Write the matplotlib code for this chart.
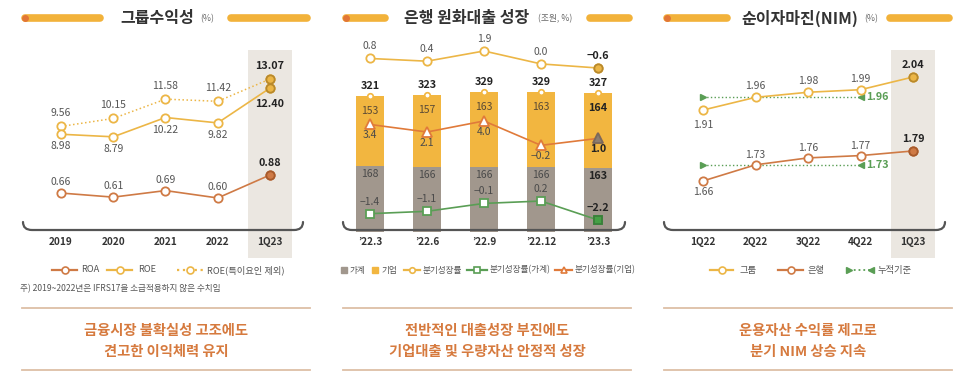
import numpy as np
import matplotlib.pyplot as plt
import matplotlib.transforms as mtransforms
from matplotlib.patches import Rectangle, PathPatch
from matplotlib.path import Path

plt.rcParams['font.family'] = ['Noto Sans CJK KR', 'DejaVu Sans']

# ---- data ----
years = ['2019', '2020', '2021', '2022', '1Q23']
roa = [0.66, 0.61, 0.69, 0.60, 0.88]
roe = [8.98, 8.79, 10.22, 9.82, 12.40]
roe_adj = [9.56, 10.15, 11.58, 11.42, 13.07]

loan_quarters = ['\u201922.3', '\u201922.6', '\u201922.9', '\u201922.12', '\u201923.3']
household = [168, 166, 166, 166, 163]
corporate = [153, 157, 163, 163, 164]
growth_total = [0.8, 0.4, 1.9, 0.0, -0.6]
growth_household = [-1.4, -1.1, -0.1, 0.2, -2.2]
growth_corporate = [3.4, 2.1, 4.0, -0.2, 1.0]

nim_quarters = ['1Q22', '2Q22', '3Q22', '4Q22', '1Q23']
nim_group = [1.91, 1.96, 1.98, 1.99, 2.04]
nim_bank = [1.66, 1.73, 1.76, 1.77, 1.79]
nim_group_cum = 1.96
nim_bank_cum = 1.73

# ---- colours ----
GOLD = '#ECB646'
GOLD_DARK = '#B8892C'
ORANGE = '#CF7A45'
ORANGE_DARK = '#A65A2C'
CORP_ORANGE = '#E07A3A'
GREEN = '#5A9E55'
GREEN_FILL = '#45A045'
BAR_GRAY = '#A1978D'
BAR_YELLOW = '#F2B640'
SHADE = '#EBE7E1'
TXT = '#555555'
DARK = '#222222'

W, H = 960, 377
fig = plt.figure(figsize=(9.6, 3.77), dpi=100)

under = fig.add_axes([0, 0, 1, 1])
over = fig.add_axes([0, 0, 1, 1])
for a, z in ((under, -1), (over, 5)):
    a.set_xlim(0, W)
    a.set_ylim(H, 0)
    a.axis('off')
    a.set_zorder(z)


def fmt(v, d):
    return f'{v:.{d}f}'.replace('-', '\u2212')


def panel_axes(x0, x1, first, last):
    ax = fig.add_axes([x0 / W, 1 - 232 / H, (x1 - x0) / W, (232 - 45) / H])
    step = (last - first) / 4
    ax.set_xlim(-(first - x0) / step, 4 + (x1 - last) / step)
    ax.axis('off')
    ax.set_zorder(1)
    return ax


def twin(ax, ylim):
    t = ax.twinx()
    t.axis('off')
    t.set_ylim(*ylim)
    return t


def series(t, vals, color, marker='o', ls='-', lw=1.2, ms=6, face=None, edge=None):
    x = np.arange(len(vals))
    t.plot(x, vals, color=color, ls=ls, lw=lw, marker=marker, ms=ms,
           mfc='white', mec=color, mew=1.3, zorder=3)
    t.plot(x[-1:], vals[-1:], ls='none', marker=marker, ms=ms,
           mfc=face, mec=edge, mew=1.3, zorder=4)


def labels(t, vals, offsets, d=2, color=TXT, size=7.5):
    for i, (v, dy) in enumerate(zip(vals, offsets)):
        last = i == len(vals) - 1
        t.annotate(fmt(v, d), (i, v), xytext=(0, dy), textcoords='offset pixels',
                   ha='center', va='center', fontsize=7.8 if last else size,
                   color=DARK if last else color,
                   fontweight='bold' if last else 'normal', zorder=6)


def xlabels(ax, cats):
    tr = mtransforms.blended_transform_factory(ax.transData, over.transData)
    for i, c in enumerate(cats):
        over.text(i, 242, c, transform=tr, ha='center', va='center',
                  fontsize=7.2, fontweight='bold', color='#333333')


def shade_last(ax):
    tr = mtransforms.blended_transform_factory(ax.transData, under.transData)
    under.add_patch(Rectangle((4 - 0.42, 50), 0.84, 208, transform=tr,
                              facecolor=SHADE, edgecolor='none'))


def bracket(x0, x1, ytop=222, ybot=230, r=9):
    verts = [(x0, ytop), (x0, ybot), (x0 + r, ybot), (x1 - r, ybot),
             (x1, ybot), (x1, ytop)]
    codes = [Path.MOVETO, Path.CURVE3, Path.CURVE3, Path.LINETO,
             Path.CURVE3, Path.CURVE3]
    over.add_patch(PathPatch(Path(verts, codes), facecolor='none',
                             edgecolor='#555555', lw=1.6, capstyle='round'))


def title(left_bar, right_bar, text, cx, unit, ux):
    for xa, xb in (left_bar, right_bar):
        over.plot([xa + 3, xb - 3], [18, 18], color='#F2B23A', lw=5.5,
                  solid_capstyle='round')
    over.plot([left_bar[0] + 3], [18], 'o', ms=5, color='#E27636', mec='none')
    over.text(cx, 18, text, ha='center', va='center', fontsize=11.5,
              fontweight='bold', color='#333333')
    over.text(ux, 19, unit, ha='left', va='center', fontsize=6.3, color='#666666')


def legend_line(x0, x1, y, color, marker, ls='-', mfc='white', ms=5):
    over.plot([x0, x1], [y, y], color=color, ls=ls, lw=1.6)
    over.plot([(x0 + x1) / 2], [y], marker=marker, ms=ms, mfc=mfc, mec=color, mew=1.2)


def legend_text(x, y, s, size=6.7):
    over.text(x, y, s, ha='left', va='center', fontsize=size, color=TXT)


def summary(x0, x1, line1, line2):
    for y in (308, 370):
        over.plot([x0, x1], [y, y], color='#DDBFA6', lw=1.3)
    cx = (x0 + x1) / 2
    for y, s in ((331, line1), (352, line2)):
        over.text(cx, y, s, ha='center', va='center', fontsize=10.3,
                  fontweight='bold', color='#D67A3E')


# ---- panel 1 : group profitability ----
ax1 = panel_axes(22, 305, 61, 270)
shade_last(ax1)
t_roe = twin(ax1, (1.74, 15.59))
series(t_roe, roe_adj, GOLD, ls=':', lw=1.1, face=GOLD, edge=GOLD_DARK)
series(t_roe, roe, GOLD, face=GOLD, edge=GOLD_DARK)
labels(t_roe, roe_adj, [13, 13, 13, 13, 13])
labels(t_roe, roe, [-12, -12, -12, -12, -16])
t_roa = twin(ax1, (0.185, 2.465))
series(t_roa, roa, ORANGE, face=ORANGE, edge=ORANGE_DARK)
labels(t_roa, roa, [11, 11, 11, 11, 12])
xlabels(ax1, years)
bracket(23, 303)
title((22, 103), (228, 310), '그룹수익성', 157, '(%)', 200)
legend_line(52, 77, 270, ORANGE, 'o')
legend_text(81, 270, 'ROA')
legend_line(107, 132, 270, GOLD, 'o')
legend_text(138, 270, 'ROE')
legend_line(177, 203, 270, GOLD, 'o', ls=':')
legend_text(207, 270, 'ROE(특이요인 제외)')
over.text(20, 289, '주) 2019~2022년은 IFRS17을 소급적용하지 않은 수치임',
          ha='left', va='center', fontsize=6.2, color=TXT)
summary(22, 310, '금융시장 불확실성 고조에도', '견고한 이익체력 유지')

# ---- panel 2 : bank KRW loans ----
ax2 = panel_axes(340, 632, 370, 598)
ax2.set_ylim(24, 432)
x2 = np.arange(len(household))
total = np.add(household, corporate)
ax2.bar(x2, household, width=0.49, color=BAR_GRAY, zorder=1)
ax2.bar(x2, corporate, bottom=household, width=0.49, color=BAR_YELLOW, zorder=1)
ax2.plot(x2, total, ls='none', marker='o', ms=4, mfc='white', mec=BAR_YELLOW,
         mew=1.2, zorder=2)
for i in x2:
    last = i == len(x2) - 1
    ax2.annotate(str(total[i]), (i, total[i]), xytext=(0, 10),
                 textcoords='offset pixels', ha='center', va='center',
                 fontsize=7.8, fontweight='bold', color=DARK)
    ax2.annotate(str(corporate[i]), (i, total[i]), xytext=(0, -15),
                 textcoords='offset pixels', ha='center', va='center',
                 fontsize=7.8 if last else 7.5, color=DARK if last else '#5A4A35',
                 fontweight='bold' if last else 'normal')
    ax2.annotate(str(household[i]), (i, household[i]), xytext=(0, -8),
                 textcoords='offset pixels', ha='center', va='center',
                 fontsize=7.8 if last else 7.5, color=DARK if last else '#4A4A4A',
                 fontweight='bold' if last else 'normal')
t_gt = twin(ax2, (-24.7, 2.78))
series(t_gt, growth_total, GOLD, face=GOLD, edge=GOLD_DARK)
labels(t_gt, growth_total, [12] * 5, d=1)
t_gc = twin(ax2, (-15.14, 17.1))
series(t_gc, growth_corporate, CORP_ORANGE, marker='^', ms=6.5,
       face='#8E7E70', edge='#7A6A5C')
labels(t_gc, growth_corporate, [-11] * 5, d=1, color='#4A4A4A')
t_gh = twin(ax2, (-3.72, 19.95))
series(t_gh, growth_household, GREEN, marker='s', ms=6,
       face=GREEN_FILL, edge='#3A7F3A')
labels(t_gh, growth_household, [12] * 5, d=1, color='#4A4A4A')
xlabels(ax2, loan_quarters)
bracket(343, 625)
title((343, 388), (587, 632), '은행 원화대출 성장', 467, '(조원, %)', 538)
over.plot([344], [270], 's', ms=5, color=BAR_GRAY)
legend_text(350, 270, '가계', 6.2)
over.plot([375], [270], 's', ms=5, color=BAR_YELLOW)
legend_text(381, 270, '기업', 6.2)
legend_line(404, 420, 270, GOLD, 'o', ms=4)
legend_text(423, 270, '분기성장률', 6.2)
legend_line(467, 487, 270, GREEN, 's', ms=4.5)
legend_text(490, 270, '분기성장률(가계)', 6.2)
legend_line(555, 572, 270, CORP_ORANGE, '^', ms=5)
legend_text(575, 270, '분기성장률(기업)', 6.2)
summary(343, 631, '전반적인 대출성장 부진에도', '기업대출 및 우량자산 안정적 성장')

# ---- panel 3 : NIM ----
ax3 = panel_axes(663, 945, 703, 913)
shade_last(ax3)
t_ng = twin(ax3, (1.43, 2.166))
t_nb = twin(ax3, (1.439, 2.249))
for t, v in ((t_ng, nim_group_cum), (t_nb, nim_bank_cum)):
    t.plot([0, 3], [v, v], color=GREEN, ls=':', lw=1.0, zorder=2)
    t.plot([0], [v], '>', ms=4.5, color=GREEN, zorder=2)
    t.plot([3], [v], '<', ms=4.5, color=GREEN, zorder=2)
    t.annotate(fmt(v, 2), (3, v), xytext=(6, 0), textcoords='offset pixels',
               ha='left', va='center', fontsize=7.8, fontweight='bold', color=GREEN)
series(t_ng, nim_group, GOLD, face=GOLD, edge=GOLD_DARK)
labels(t_ng, nim_group, [-15, 11, 11, 11, 12])
series(t_nb, nim_bank, ORANGE, face=ORANGE, edge=ORANGE_DARK)
labels(t_nb, nim_bank, [-11, 10, 10, 10, 12])
xlabels(ax3, nim_quarters)
bracket(664, 945)
title((664, 730), (887, 952), '순이자마진(NIM)', 800, '(%)', 864)
legend_line(710, 733, 270, GOLD, 'o')
legend_text(739, 270, '그룹')
legend_line(778, 803, 270, ORANGE, 'o')
legend_text(808, 270, '은행')
over.plot([849, 871], [270, 270], color=GREEN, ls=':', lw=1.3)
over.plot([849], [270], '>', ms=4, color=GREEN)
over.plot([871], [270], '<', ms=4, color=GREEN)
legend_text(877, 270, '누적기준')
summary(664, 952, '운용자산 수익률 제고로', '분기 NIM 상승 지속')

fig.savefig('out.png', dpi=100)
